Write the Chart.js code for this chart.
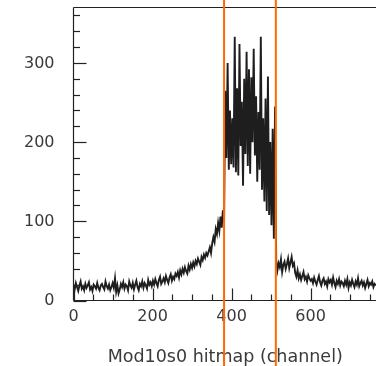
<!DOCTYPE html>
<html>
<head>
<meta charset="utf-8">
<script src="https://cdn.jsdelivr.net/npm/chart.js@4/dist/chart.umd.min.js"></script>
<style>
html,body{margin:0;padding:0;background:#fff;overflow:hidden;width:376px;height:366px;}
#c{display:block;}
</style>
</head>
<body>
<canvas id="c" width="377" height="366"></canvas>
<script>
// ---- data ----
const channelStep = 3;               // one value every 3 channels
const counts = [
 20,14,22,17,12,19,24,15,18,13,21,16,19,23,14,17,12,20,18,15,22,16,13,19,21,17,14,24,18,15,20,13,17,22,
 16,28,11,19,9,14,21,17,23,15,20,18,13,24,19,16,22,14,20,25,17,13,21,18,24,16,22,19,15,26,20,23,18,
 25,20,27,22,18,26,30,21,24,28,23,31,26,22,29,33,25,30,27,34,
 31,36,29,38,33,40,35,42,37,34,44,39,46,41,
 48,43,50,46,53,49,45,55,51,58,54,60,57,
 62,67,60,72,80,74,90,84,98,88,106,92,114,
 100,
 265,180,300,165,240,172,230,168,333,162,268,158,324,195,251,145,280,185,314,170,292,160,282,200,318,183,258,150,238,165,333,140,230,125,255,113,283,108,200,95,217,78,245,
 50,38,47,42,52,36,45,49,40,46,53,41,48,55,44,47,
 35,30,38,28,33,26,31,36,27,30,24,32,28,25,
 27,22,29,24,20,26,31,23,19,25,28,21,24,18,27,23,26,20,29,22,17,25,21,27,19,24,
 22,18,25,20,27,16,23,19,26,21,17,24,20,28,18,22,25,19,23,16,21,26,18,22,20,24,17,21,19
];
const xMajorTicks = [0, 200, 400, 600];
const xMinorTicks = [50,100,150,250,300,350,450,500,550,650,700,750];
const yMajorTicks = [0, 100, 200, 300];
const yMinorTicks = [20,40,60,80,120,140,160,180,220,240,260,280,320,340,360];
const cutLines = [381, 512];
const xTitle = 'Mod10s0 hitmap (channel)';
const xMax = 768, yMax = 370;

const points = counts.map((v, i) => ({x: i * channelStep, y: v}));

const textColor = '#3a3a3a';
const axisPlugin = {
  id: 'rootAxes',
  afterDraw(chart) {
    const ctx = chart.ctx, xs = chart.scales.x, ys = chart.scales.y, a = chart.chartArea;
    ctx.save();
    ctx.strokeStyle = '#222';
    ctx.lineWidth = 1.2;
    const ln = (x1, y1, x2, y2) => { ctx.beginPath(); ctx.moveTo(x1, y1); ctx.lineTo(x2, y2); ctx.stroke(); };
    ln(a.left, a.top, a.left, a.bottom);
    ln(a.left, a.top, a.right, a.top);
    ln(a.left, a.bottom, a.right, a.bottom);
    ln(a.right, a.top, a.right, a.bottom);
    xMajorTicks.forEach(v => { const p = Math.round(xs.getPixelForValue(v)) + 0.5; ln(p, a.bottom, p, a.bottom - 12); });
    xMinorTicks.forEach(v => { const p = Math.round(xs.getPixelForValue(v)) + 0.5; ln(p, a.bottom, p, a.bottom - 6); });
    yMajorTicks.forEach(v => { const p = Math.round(ys.getPixelForValue(v)) + 0.5; ln(a.left, p, a.left + 13, p); });
    yMinorTicks.forEach(v => { const p = Math.round(ys.getPixelForValue(v)) + 0.5; ln(a.left, p, a.left + 6.5, p); });
    ctx.fillStyle = textColor;
    ctx.font = '16px "DejaVu Sans"';
    ctx.textAlign = 'right'; ctx.textBaseline = 'middle';
    yMajorTicks.forEach(v => ctx.fillText(String(v), a.left - 19, ys.getPixelForValue(v) + 0.5));
    ctx.textAlign = 'center';
    xMajorTicks.forEach(v => ctx.fillText(String(v), xs.getPixelForValue(v), a.bottom + 16));
    ctx.font = '17.5px "DejaVu Sans"';
    ctx.textBaseline = 'alphabetic';
    ctx.fillText(xTitle, (a.left + a.right) / 2, 362);
    ctx.strokeStyle = '#ff6a00';
    ctx.lineWidth = 2;
    cutLines.forEach(v => { const p = xs.getPixelForValue(v); ln(p, 0, p, chart.height); });
    ctx.restore();
  }
};

new Chart(document.getElementById('c'), {
  type: 'line',
  data: { datasets: [{ data: points, borderColor: '#1e1e1e', borderWidth: 1.9, pointRadius: 0, tension: 0, fill: false }] },
  options: {
    responsive: false,
    animation: false,
    devicePixelRatio: 1,
    layout: { padding: { top: 7.5, right: 0, left: 0, bottom: 0 } },
    plugins: { legend: { display: false }, tooltip: { enabled: false }, title: { display: false } },
    scales: {
      x: { type: 'linear', min: 0, max: xMax, ticks: { display: false }, grid: { display: false }, border: { display: false },
           afterFit(s) { s.height = 65.5; } },
      y: { type: 'linear', min: 0, max: yMax, ticks: { display: false }, grid: { display: false }, border: { display: false },
           afterFit(s) { s.width = 73.5; } }
    }
  },
  plugins: [axisPlugin]
});
</script>
</body>
</html>
